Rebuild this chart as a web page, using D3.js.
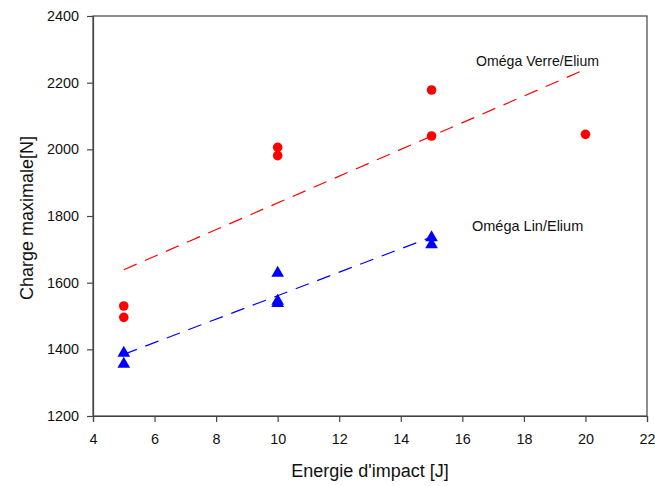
<!DOCTYPE html>
<html><head><meta charset="utf-8">
<script src="https://cdn.jsdelivr.net/npm/d3@7"></script>
<style>body{margin:0;background:#fff}svg{display:block}text{font-family:"Liberation Sans",Arial,sans-serif;fill:#111}</style>
</head><body><svg id="c" width="655" height="486"></svg>
<script>
const verreX = [5, 5, 10, 10, 15, 15, 20];
const verreY = [1530, 1496, 2006, 1981, 2178, 2040, 2045];
const linX = [5, 5, 10, 10, 10, 15, 15];
const linY = [1392, 1359, 1632, 1548, 1541, 1738, 1717];
const xTicks = [4, 6, 8, 10, 12, 14, 16, 18, 20, 22];
const yTicks = [1200, 1400, 1600, 1800, 2000, 2200, 2400];
const labels = ["Oméga Verre/Elium", "Oméga Lin/Elium"];

const svg = d3.select("#c");
const m = {l: 93, r: 647, t: 16, b: 416};
const x = d3.scaleLinear().domain([4, 22]).range([m.l, m.r]);
const y = d3.scaleLinear().domain([1200, 2400]).range([m.b, m.t]);
const axisColor = "#444";

function fit(xs, ys) {
  const mx = d3.mean(xs), my = d3.mean(ys);
  let sxy = 0, sxx = 0;
  xs.forEach((v, i) => { sxy += (v - mx) * (ys[i] - my); sxx += (v - mx) ** 2; });
  const b = sxy / sxx, a = my - b * mx;
  const x0 = d3.min(xs), x1 = d3.max(xs);
  return [[x0, a + b * x0], [x1, a + b * x1]];
}

svg.append("rect").attr("x", m.l).attr("y", m.t).attr("width", m.r - m.l).attr("height", m.b - m.t)
  .attr("fill", "none").attr("stroke", axisColor).attr("stroke-width", 1.2);

const gx = svg.append("g").attr("transform", `translate(0,${m.b})`)
  .call(d3.axisBottom(x).tickValues(xTicks).tickSize(6).tickPadding(12).tickFormat(d3.format("d")));
const gy = svg.append("g").attr("transform", `translate(${m.l},0)`)
  .call(d3.axisLeft(y).tickValues(yTicks).tickSize(6).tickPadding(8).tickFormat(d3.format("d")));
[gx, gy].forEach(g => {
  g.attr("font-size", 14.4).attr("font-family", "Liberation Sans, Arial, sans-serif");
  g.select(".domain").attr("stroke", axisColor).attr("stroke-width", 1.2);
  g.selectAll(".tick line").attr("stroke", axisColor).attr("stroke-width", 1.2);
  g.selectAll(".tick text").style("font-size", "14.4px").attr("fill", "#111");
});

svg.append("text").attr("x", (m.l + m.r) / 2).attr("y", 477).attr("text-anchor", "middle")
  .style("font-size", "18px").text("Energie d'impact [J]");
svg.append("text").attr("transform", `translate(33,${(m.t + m.b) / 2 + 2}) rotate(-90)`)
  .attr("text-anchor", "middle").style("font-size", "18px").text("Charge maximale[N]");

const line = d3.line().x(d => x(d[0])).y(d => y(d[1]));
svg.append("path").attr("d", line(fit(verreX, verreY))).attr("fill", "none")
  .attr("stroke", "#ff0000").attr("stroke-width", 1.2).attr("stroke-dasharray", "14,9");
svg.append("path").attr("d", line(fit(linX, linY))).attr("fill", "none")
  .attr("stroke", "#0000ff").attr("stroke-width", 1.2).attr("stroke-dasharray", "14,9");

svg.append("g").selectAll("circle").data(verreX).join("circle")
  .attr("cx", d => x(d)).attr("cy", (d, i) => y(verreY[i])).attr("r", 4.8).attr("fill", "#ff0000");
const tri = d3.symbol().type(d3.symbolTriangle).size(70);
svg.append("g").selectAll("path").data(linX).join("path")
  .attr("d", tri).attr("transform", (d, i) => `translate(${x(d)},${y(linY[i]) + 1})`).attr("fill", "#0000ff");

svg.append("text").attr("x", 476).attr("y", 66).style("font-size", "14.1px").text(labels[0]);
svg.append("text").attr("x", 472).attr("y", 231).style("font-size", "14.5px").text(labels[1]);
</script></body></html>
